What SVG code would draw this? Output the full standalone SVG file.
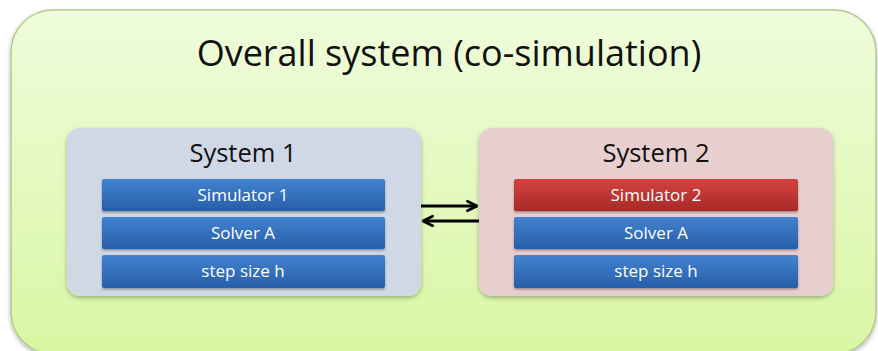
<svg xmlns="http://www.w3.org/2000/svg" width="878" height="351" viewBox="0 0 878 351">
<defs>
<linearGradient id="gOuter" x1="0" y1="0" x2="0" y2="1"><stop offset="0" stop-color="#effcdc"/><stop offset="1" stop-color="#d9f6a3"/></linearGradient>
<linearGradient id="gBlue" x1="0" y1="0" x2="0" y2="1"><stop offset="0" stop-color="#4182d0"/><stop offset="1" stop-color="#285ea8"/></linearGradient>
<linearGradient id="gRed" x1="0" y1="0" x2="0" y2="1"><stop offset="0" stop-color="#d4423f"/><stop offset="1" stop-color="#a82a28"/></linearGradient>
<filter id="sh" x="-10%" y="-10%" width="120%" height="130%"><feDropShadow dx="0" dy="2" stdDeviation="2" flood-color="#000" flood-opacity="0.3"/></filter>
<filter id="sh2" x="-5%" y="-20%" width="110%" height="150%"><feDropShadow dx="0" dy="1.5" stdDeviation="1.2" flood-color="#000" flood-opacity="0.35"/></filter>
<marker id="ah" viewBox="0 0 10 10" refX="9" refY="5" markerWidth="4" markerHeight="4" orient="auto-start-reverse" markerUnits="strokeWidth"><path d="M1,1 L9,5 L1,9" fill="none" stroke="#000" stroke-width="2.2" stroke-linecap="round" stroke-linejoin="round"/></marker>
<style>
.title{font-family:"Open Sans","Liberation Sans",sans-serif;font-size:36px;fill:#111;text-anchor:middle}
.sys{font-family:"Open Sans","Liberation Sans",sans-serif;font-size:25.5px;fill:#111;text-anchor:middle}
.bar{font-family:"Open Sans","Liberation Sans",sans-serif;font-size:17px;fill:#fff;text-anchor:middle}
.blue{fill:url(#gBlue);filter:url(#sh2)}
.red{fill:url(#gRed);filter:url(#sh2)}
.conn{stroke:#000;stroke-width:3;fill:none}
</style>
</defs>
<g id="overall">
<rect x="11" y="10" width="865" height="344" rx="42" fill="url(#gOuter)" stroke="#b3c98c" stroke-width="1.5" filter="url(#sh)"/>
<text class="title" x="449" y="66">Overall system (co-simulation)</text>
</g>
<g id="system1">
<rect x="67" y="128" width="354" height="168" rx="13" fill="#d0d8e6" filter="url(#sh)"/>
<text class="sys" x="243" y="162">System 1</text>
</g>
<g id="sim1"><rect class="blue" x="102" y="179" width="283" height="32" rx="2"/><text class="bar" x="243" y="201">Simulator 1</text></g>
<g id="solver1"><rect class="blue" x="102" y="217" width="283" height="32" rx="2"/><text class="bar" x="243" y="239">Solver A</text></g>
<g id="step1"><rect class="blue" x="102" y="255" width="283" height="33" rx="2"/><text class="bar" x="243" y="277">step size h</text></g>
<g id="system2">
<rect x="479" y="128" width="354" height="168" rx="13" fill="#e8cfcf" filter="url(#sh)"/>
<text class="sys" x="656" y="162">System 2</text>
</g>
<g id="sim2"><rect class="red" x="514" y="179" width="284" height="32" rx="2"/><text class="bar" x="656" y="201">Simulator 2</text></g>
<g id="solver2"><rect class="blue" x="514" y="217" width="284" height="32" rx="2"/><text class="bar" x="656" y="239">Solver A</text></g>
<g id="step2"><rect class="blue" x="514" y="255" width="284" height="33" rx="2"/><text class="bar" x="656" y="277">step size h</text></g>
<g id="connectors">
<line class="conn" x1="421" y1="206" x2="477" y2="206" marker-end="url(#ah)"/>
<line class="conn" x1="479" y1="221" x2="423" y2="221" marker-end="url(#ah)"/>
</g>
</svg>
